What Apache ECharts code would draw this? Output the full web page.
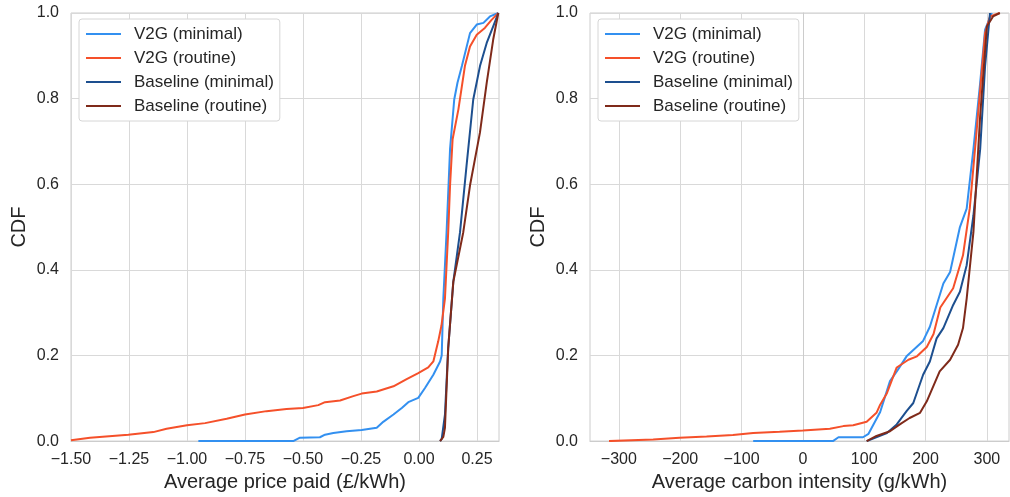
<!DOCTYPE html>
<html>
<head>
<meta charset="utf-8">
<script src="https://cdn.jsdelivr.net/npm/echarts@6/dist/echarts.min.js"></script>
<style>
  html, body { margin: 0; padding: 0; background: #ffffff; }
  #chart { width: 1010px; height: 497px; }
</style>
</head>
<body>
<div id="chart"></div>
<script>
// Series names (legend order)
const seriesNames = ['V2G (minimal)', 'V2G (routine)', 'Baseline (minimal)', 'Baseline (routine)'];

// Empirical CDF of average price paid (£/kWh): [price, cumulative fraction]
const priceV2GMinimal = [[-0.951,0],[-0.542,0],[-0.513,0.008],[-0.427,0.009],[-0.405,0.015],[-0.369,0.019],[-0.312,0.023],[-0.247,0.026],[-0.182,0.031],[-0.154,0.045],[-0.11,0.062],[-0.074,0.0775],[-0.046,0.091],[-0.003,0.101],[0.026,0.124],[0.062,0.155],[0.091,0.186],[0.098,0.2],[0.105,0.333],[0.119,0.488],[0.134,0.682],[0.152,0.798],[0.166,0.837],[0.185,0.876],[0.22,0.953],[0.249,0.973],[0.278,0.977],[0.306,0.992],[0.342,1.0]];
const priceV2GRoutine = [[-1.5,0.002],[-1.418,0.008],[-1.253,0.015],[-1.145,0.021],[-1.088,0.029],[-1.0,0.037],[-0.922,0.042],[-0.829,0.052],[-0.75,0.062],[-0.657,0.07],[-0.571,0.075],[-0.5,0.0775],[-0.434,0.084],[-0.405,0.091],[-0.34,0.095],[-0.283,0.105],[-0.247,0.111],[-0.182,0.116],[-0.11,0.128],[-0.053,0.145],[-0.003,0.159],[0.04,0.172],[0.062,0.186],[0.083,0.233],[0.097,0.27],[0.112,0.333],[0.126,0.488],[0.134,0.597],[0.145,0.705],[0.17,0.775],[0.198,0.876],[0.22,0.922],[0.249,0.949],[0.284,0.965],[0.313,0.984],[0.342,1.0]];
const priceBaseMinimal = [[0.091,0],[0.098,0.005],[0.112,0.062],[0.126,0.217],[0.148,0.372],[0.177,0.488],[0.205,0.643],[0.234,0.798],[0.263,0.876],[0.292,0.93],[0.32,0.969],[0.342,1.0]];
const priceBaseRoutine = [[0.091,0],[0.105,0.01],[0.112,0.031],[0.126,0.217],[0.148,0.372],[0.191,0.488],[0.22,0.597],[0.263,0.721],[0.292,0.837],[0.32,0.938],[0.342,1.0]];

// Empirical CDF of average carbon intensity (g/kWh): [intensity, cumulative fraction]
const carbonV2GMinimal = [[-81,0],[49,0],[58,0.009],[98,0.009],[107,0.017],[126,0.068],[142,0.14],[155,0.167],[169,0.198],[196,0.234],[207,0.267],[229,0.368],[240,0.395],[256,0.5],[267,0.543],[278,0.682],[289,0.837],[297,0.961],[308,1.0]];
const carbonV2GRoutine = [[-316,0],[-244,0.004],[-201,0.008],[-157,0.011],[-114,0.014],[-81,0.019],[-38,0.022],[0,0.025],[44,0.029],[66,0.035],[82,0.037],[104,0.045],[120,0.066],[126,0.085],[137,0.112],[153,0.172],[172,0.19],[186,0.198],[202,0.22],[213,0.25],[224,0.312],[245,0.357],[261,0.434],[272,0.543],[283,0.721],[297,0.953],[305,0.992],[321,1.0]];
const carbonBaseMinimal = [[104,0],[137,0.019],[153,0.039],[169,0.07],[180,0.089],[196,0.155],[207,0.186],[218,0.24],[229,0.264],[245,0.318],[256,0.349],[267,0.411],[278,0.527],[289,0.682],[297,0.876],[305,1.0]];
const carbonBaseRoutine = [[104,0],[120,0.012],[142,0.023],[158,0.039],[174,0.054],[191,0.066],[202,0.093],[223,0.163],[240,0.19],[253,0.225],[261,0.264],[267,0.333],[278,0.488],[289,0.76],[300,0.969],[310,0.992],[321,1.0]];

// Tick positions
const priceTicks = [-1.5, -1.25, -1.0, -0.75, -0.5, -0.25, 0, 0.25];
const carbonTicks = [-300, -200, -100, 0, 100, 200, 300];
const cdfTicks = [0, 0.2, 0.4, 0.6, 0.8, 1.0];

const colors = ['#3390f0', '#f5502a', '#1d4f8f', '#7f2a1a'];
const FONT = '"Liberation Sans", Arial, sans-serif';
const TEXT = '#262626';
const GRID_LINE = '#d9d9d9';

const minus = s => s.replace('-', '\u2212');

const chart = echarts.init(document.getElementById('chart'), null, { renderer: 'canvas' });

function xAxisBase(gridIndex, name) {
  return {
    type: 'value',
    gridIndex,
    name,
    nameLocation: 'middle',
    nameGap: 30,
    nameTextStyle: { fontFamily: FONT, fontSize: 20, color: TEXT },
    axisLine: { show: true, lineStyle: { color: '#cccccc', width: 1 } },
    axisTick: { show: false },
    splitLine: { show: true, lineStyle: { color: GRID_LINE, width: 1 } },
    axisLabel: { fontFamily: FONT, fontSize: 16, color: TEXT, margin: 10 }
  };
}

function yAxisBase(gridIndex) {
  return {
    type: 'value',
    gridIndex,
    min: 0,
    max: 1,
    interval: 0.2,
    name: 'CDF',
    nameLocation: 'middle',
    nameGap: 42,
    nameTextStyle: { fontFamily: FONT, fontSize: 20, color: TEXT },
    axisLine: { show: true, lineStyle: { color: '#cccccc', width: 1 } },
    axisTick: { show: false },
    splitLine: { show: true, lineStyle: { color: GRID_LINE, width: 1 } },
    axisLabel: {
      fontFamily: FONT, fontSize: 16, color: TEXT, margin: 12,
      customValues: cdfTicks,
      formatter: v => v.toFixed(1)
    }
  };
}

function legendAt(left) {
  return {
    data: seriesNames,
    orient: 'vertical',
    left,
    top: 19,
    icon: 'rect',
    itemWidth: 35,
    itemHeight: 2,
    itemGap: 6,
    padding: [6, 6, 6, 7],
    backgroundColor: '#ffffff',
    borderColor: '#d6d6d6',
    borderWidth: 1,
    borderRadius: 3,
    textStyle: { fontFamily: FONT, fontSize: 17, color: TEXT, lineHeight: 18, padding: [0, 0, 0, 8] }
  };
}

function lineSeries(name, xi, data, color) {
  return {
    name,
    type: 'line',
    xAxisIndex: xi,
    yAxisIndex: xi,
    data,
    showSymbol: false,
    symbol: 'none',
    clip: true,
    lineStyle: { color, width: 2 },
    itemStyle: { color },
    emphasis: { disabled: true },
    animation: false
  };
}

const priceX = Object.assign(xAxisBase(0, 'Average price paid (£/kWh)'), {
  min: -1.5, max: 0.345, interval: 0.25
});
priceX.axisLabel.customValues = priceTicks;
priceX.axisTick.customValues = priceTicks;
priceX.axisLabel.formatter = v => minus(v.toFixed(2));

const carbonX = Object.assign(xAxisBase(1, 'Average carbon intensity (g/kWh)'), {
  min: -347, max: 336
});
carbonX.axisLabel.customValues = carbonTicks;
carbonX.axisTick.customValues = carbonTicks;
carbonX.axisLabel.formatter = v => minus(String(v));

const option = {
  animation: false,
  backgroundColor: '#ffffff',
  color: colors,
  grid: [
    { left: 71, right: 511, top: 13, bottom: 54, show: true, borderColor: '#cccccc', borderWidth: 1, backgroundColor: 'transparent' },
    { left: 590, right: 1, top: 13, bottom: 54, show: true, borderColor: '#cccccc', borderWidth: 1, backgroundColor: 'transparent' }
  ],
  legend: [legendAt(79), legendAt(598)],
  xAxis: [priceX, carbonX],
  yAxis: [yAxisBase(0), yAxisBase(1)],
  series: [
    lineSeries(seriesNames[0], 0, priceV2GMinimal, colors[0]),
    lineSeries(seriesNames[1], 0, priceV2GRoutine, colors[1]),
    lineSeries(seriesNames[2], 0, priceBaseMinimal, colors[2]),
    lineSeries(seriesNames[3], 0, priceBaseRoutine, colors[3]),
    lineSeries(seriesNames[0], 1, carbonV2GMinimal, colors[0]),
    lineSeries(seriesNames[1], 1, carbonV2GRoutine, colors[1]),
    lineSeries(seriesNames[2], 1, carbonBaseMinimal, colors[2]),
    lineSeries(seriesNames[3], 1, carbonBaseRoutine, colors[3])
  ]
};

chart.setOption(option);
</script>
</body>
</html>
